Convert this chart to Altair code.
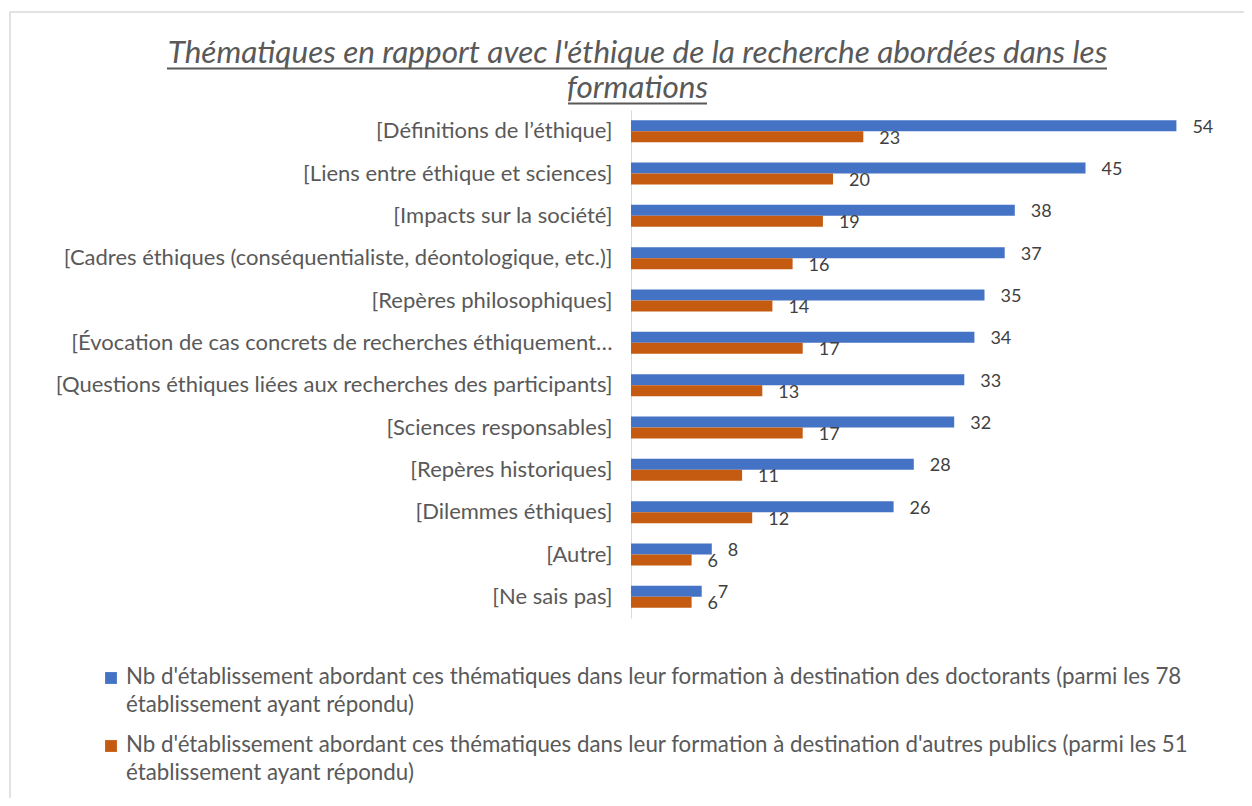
import altair as alt
import pandas as pd

categories = [
    "[Définitions de l’éthique]",
    "[Liens entre éthique et sciences]",
    "[Impacts sur la société]",
    "[Cadres éthiques (conséquentialiste, déontologique, etc.)]",
    "[Repères philosophiques]",
    "[Évocation de cas concrets de recherches éthiquement…",
    "[Questions éthiques liées aux recherches des participants]",
    "[Sciences responsables]",
    "[Repères historiques]",
    "[Dilemmes éthiques]",
    "[Autre]",
    "[Ne sais pas]",
]
doctorants = [54, 45, 38, 37, 35, 34, 33, 32, 28, 26, 8, 7]
autres = [23, 20, 19, 16, 14, 17, 13, 17, 11, 12, 6, 6]
series = [
    "Nb d'établissement abordant ces thématiques dans leur formation à destination des doctorants (parmi les 78 établissement ayant répondu)",
    "Nb d'établissement abordant ces thématiques dans leur formation à destination d'autres publics (parmi les 51 établissement ayant répondu)",
]
colors = ["#4472C4", "#C55A11"]
title_lines = [
    "Thématiques en rapport avec l'éthique de la recherche abordées dans les",
    "formations",
]

rows = []
for c, a, b in zip(categories, doctorants, autres):
    rows.append({"cat": c, "serie": series[0], "val": a})
    rows.append({"cat": c, "serie": series[1], "val": b})
df = pd.DataFrame(rows)

FONT = "Lato"
GREY = "#595959"

y_enc = alt.Y("cat:N", sort=categories,
              scale=alt.Scale(paddingInner=0.48, paddingOuter=0.24),
              axis=alt.Axis(title=None, ticks=False, domainColor="#D9D9D9",
                            labelFont=FONT, labelFontSize=22, labelColor=GREY,
                            labelPadding=19, labelLimit=700))
yoff = alt.YOffset("serie:N", sort=series, scale=alt.Scale(paddingInner=0, paddingOuter=0))
x_enc = alt.X("val:Q", scale=alt.Scale(domain=[0, 60]), axis=None)

base = alt.Chart(df)

bars = base.mark_bar().encode(
    y=y_enc, yOffset=yoff, x=x_enc,
    color=alt.Color("serie:N", sort=series,
                    scale=alt.Scale(domain=series, range=colors), legend=None),
)

labels = base.mark_text(align="left", baseline="middle", dx=16, dy=2,
                        font=FONT, fontSize=18, color="#404040").encode(
    y=alt.Y("cat:N", sort=categories), yOffset=yoff, x=x_enc, text="val:Q")

one = pd.DataFrame({"k": [0]})

frame = alt.Chart(one).mark_rect(
    fill=None, stroke="#D9D9D9", strokeWidth=1.5).encode(
    x=alt.value(-621), x2=alt.value(640), y=alt.value(-98), y2=alt.value(720))

underline1 = alt.Chart(one).mark_rule(color=GREY, strokeWidth=1.8).encode(
    x=alt.value(-464), x2=alt.value(476), y=alt.value(-41.5))
underline2 = alt.Chart(one).mark_rule(color=GREY, strokeWidth=1.8).encode(
    x=alt.value(-63), x2=alt.value(76), y=alt.value(-6.5))

# manual legend (symbol aligned with the first line of a two-line label)
legend_layers = []
for i, (s, col) in enumerate(zip(series, colors)):
    wrapped = s.replace(" établissement ayant", "\nétablissement ayant")
    ldf = pd.DataFrame({"label": [wrapped]})
    legend_layers.append(
        alt.Chart(ldf).mark_square(size=140, color=col, opacity=1).encode(
            x=alt.value(-520), y=alt.value(568 + 68 * i)))
    legend_layers.append(
        alt.Chart(ldf).mark_text(align="left", baseline="alphabetic", lineBreak="\n",
                                 lineHeight=28, font=FONT, fontSize=22.3,
                                 color=GREY).encode(
            x=alt.value(-505), y=alt.value(574 + 68 * i), text="label:N"))

chart = alt.layer(frame, underline1, underline2, bars, labels, *legend_layers).properties(
    width=606, height=508,
    title=alt.TitleParams(text=title_lines, font=FONT, fontSize=31.5, fontStyle="italic",
                          fontWeight="normal", color=GREY, lineHeight=34.3,
                          anchor="middle", frame="bounds", baseline="alphabetic",
                          offset=0, dy=118, dx=-3),
    padding={"left": 623, "top": 102, "right": 7, "bottom": 180},
    autosize=alt.AutoSizeParams(type="none"),
).configure_view(stroke=None)

chart.save("out.html", embed_options={"renderer": "svg", "actions": False})
